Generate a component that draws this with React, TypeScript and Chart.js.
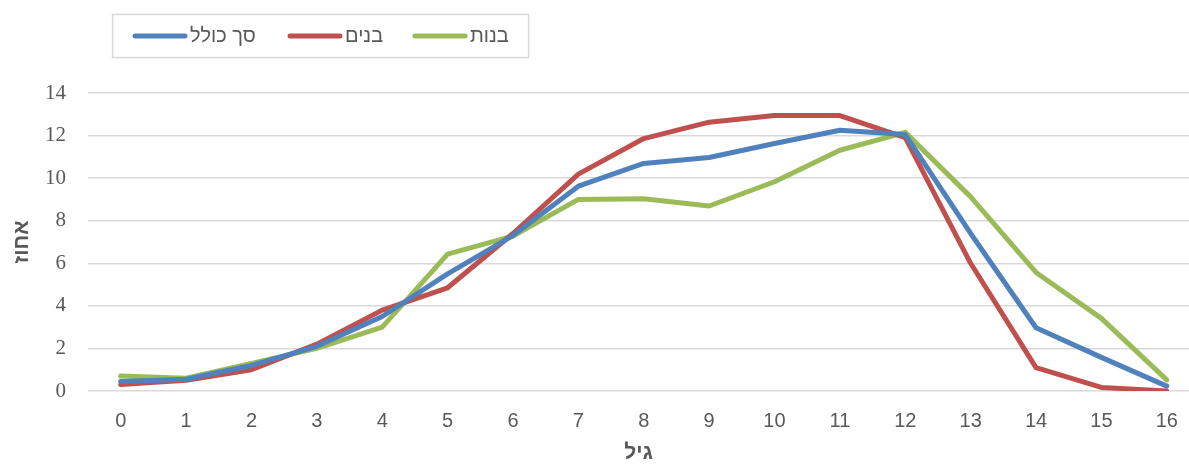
import React, { useEffect, useRef } from "react";
import { Chart, registerables } from "chart.js";

Chart.register(...registerables);

const ages = [0, 1, 2, 3, 4, 5, 6, 7, 8, 9, 10, 11, 12, 13, 14, 15, 16];
const total = [0.45, 0.55, 1.2, 2.1, 3.5, 5.5, 7.3, 9.62, 10.69, 10.97, 11.63, 12.25, 12.05, 7.4, 2.97, 1.58, 0.23];
const boys = [0.3, 0.5, 1.0, 2.2, 3.8, 4.85, 7.4, 10.19, 11.86, 12.63, 12.94, 12.94, 11.9, 6.0, 1.1, 0.17, 0.0];
const girls = [0.7, 0.6, 1.3, 2.0, 3.0, 6.43, 7.28, 9.0, 9.03, 8.69, 9.83, 11.31, 12.15, 9.12, 5.57, 3.41, 0.52];
const yTicks = [0, 2, 4, 6, 8, 10, 12, 14];

const seriesNames = ["סך כולל", "בנים", "בנות"];
const seriesColors = ["#4F81BD", "#C0504D", "#9BBB59"];
const xTitle = "גיל";
const yTitle = "אחוז";

const legendPlugin = {
  id: "boxLegend",
  afterDraw(chart: any) {
    const ctx = chart.ctx;
    ctx.save();
    ctx.strokeStyle = "#D9D9D9";
    ctx.lineWidth = 1.5;
    ctx.strokeRect(112.5, 14.5, 416, 43);
    const starts = [135, 290, 415];
    ctx.font = "20px 'Liberation Sans', Arial, sans-serif";
    ctx.textBaseline = "middle";
    ctx.textAlign = "left";
    seriesNames.forEach((name, i) => {
      const x = starts[i];
      ctx.strokeStyle = seriesColors[i];
      ctx.lineWidth = 5;
      ctx.lineCap = "round";
      ctx.beginPath();
      ctx.moveTo(x, 36);
      ctx.lineTo(x + 50, 36);
      ctx.stroke();
      ctx.fillStyle = "#595959";
      ctx.fillText(name, x + 55, 36);
    });
    ctx.restore();
  },
};

export default function App() {
  const ref = useRef<HTMLCanvasElement>(null);
  useEffect(() => {
    if (!ref.current) return;
    const mk = (vals: number[]) => ages.map((a, i) => ({ x: a, y: vals[i] }));
    const chart = new Chart(ref.current, {
      type: "line",
      data: {
        datasets: [total, boys, girls].map((vals, i) => ({
          label: seriesNames[i],
          data: mk(vals),
          borderColor: seriesColors[i],
          backgroundColor: seriesColors[i],
          borderWidth: 5,
          pointRadius: 0,
          tension: 0,
          borderJoinStyle: "round" as const,
          borderCapStyle: "round" as const,
        })),
      },
      options: {
        animation: false,
        responsive: false,
        devicePixelRatio: 1,
        layout: { padding: { top: 93, right: 0, left: 0, bottom: 0 } },
        plugins: { legend: { display: false }, tooltip: { enabled: false } },
        scales: {
          x: {
            type: "linear",
            min: -0.5,
            max: 16.34,
            afterBuildTicks: (axis: any) => {
              axis.ticks = ages.map((v) => ({ value: v }));
            },
            afterFit: (axis: any) => {
              axis.height = 75;
            },
            grid: { display: false },
            border: { display: false },
            ticks: {
              padding: 10,
              color: "#595959",
              font: { family: "'Liberation Sans', Arial, sans-serif", size: 20 },
              maxRotation: 0,
              autoSkip: false,
            },
            title: {
              display: true,
              text: xTitle,
              color: "#595959",
              padding: { top: 8, bottom: 0 },
              font: { family: "'Liberation Sans', Arial, sans-serif", size: 21, weight: "bold" },
            },
          },
          y: {
            min: 0,
            max: 14,
            afterBuildTicks: (axis: any) => {
              axis.ticks = yTicks.map((v) => ({ value: v }));
            },
            afterFit: (axis: any) => {
              axis.width = 88;
            },
            grid: { color: "#D9D9D9", lineWidth: 1.5, drawTicks: false },
            border: { display: false },
            ticks: {
              padding: 22,
              color: "#595959",
              font: { family: "'Liberation Serif', 'DejaVu Serif', serif", size: 21 },
            },
            title: {
              display: true,
              text: yTitle,
              color: "#595959",
              padding: { top: 10, bottom: 0 },
              font: { family: "'Liberation Sans', Arial, sans-serif", size: 21, weight: "bold" },
            },
          },
        },
      },
      plugins: [legendPlugin],
    } as any);
    return () => chart.destroy();
  }, []);
  return (
    <div style={{ position: "absolute", left: 0, top: 0, width: 1189, height: 466, background: "#fff" }}>
      <canvas ref={ref} width={1189} height={466} style={{ display: "block" }} />
    </div>
  );
}
